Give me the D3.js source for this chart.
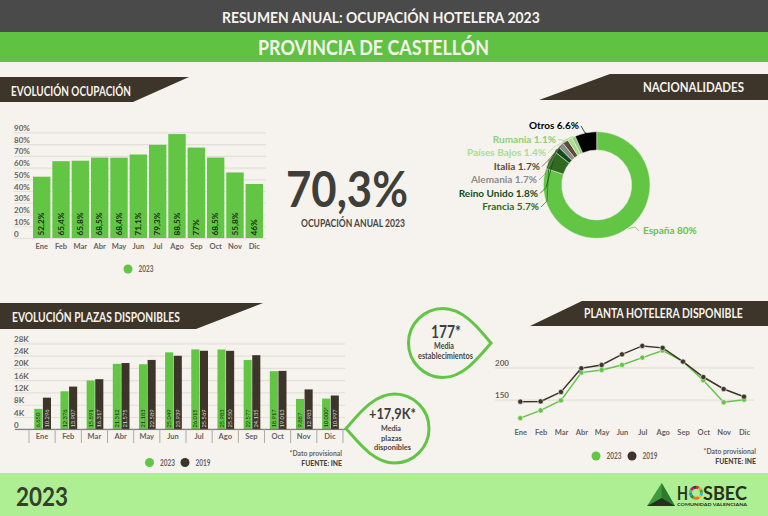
<!DOCTYPE html>
<html>
<head>
<meta charset="utf-8">
<script src="https://cdn.jsdelivr.net/npm/d3@7"></script>
<style>
  html, body { margin: 0; padding: 0; background: #f6f3ee; }
  svg { display: block; font-family: Lato, "Open Sans", sans-serif; }
  .domain { display: none; }
</style>
</head>
<body>
<svg id="chart" width="768" height="516"></svg>
<script>
var months = ["Ene", "Feb", "Mar", "Abr", "May", "Jun", "Jul", "Ago", "Sep", "Oct", "Nov", "Dic"];

var occupancy2023 = [52.2, 65.4, 65.8, 68.5, 68.4, 71.1, 79.3, 88.5, 77, 68.5, 55.8, 46];
var occupancyTicks = [0, 10, 20, 30, 40, 50, 60, 70, 80, 90];

var places2023 = [6650, 12376, 15891, 21312, 21183, 25049, 26015, 25983, 22577, 18917, 9887, 10000];
var places2019 = [10296, 13907, 16317, 21575, 22589, 23939, 25569, 25550, 24135, 19013, 12983, 10997];
var placesTicks = [0, 4000, 8000, 12000, 16000, 20000, 24000, 28000];

var hotels2023 = [121.6, 133.5, 149, 191.8, 196, 203.6, 215, 226, 208.8, 180, 146, 150];
var hotels2019 = [147, 147.4, 162, 198.5, 203.6, 220, 233, 230, 208.8, 185, 166.5, 154.6];
var hotelTicks = [150, 200];

var countries = ["España", "Francia", "Reino Unido", "Alemania", "Italia", "Países Bajos", "Rumania", "Otros"];
var countryShare = [80, 5.7, 1.8, 1.7, 1.7, 1.4, 1.1, 6.6];
var countryColors = ["#62c544", "#2f6a1e", "#0f4d1e", "#8c8c8c", "#5c4a38", "#a8dd8f", "#8ccf78", "#000000"];

var green = "#62c544", dark = "#3d3529", grey = "#66635e", gridColor = "#e3e0da";

var svg = d3.select("#chart");
var es = d3.formatLocale({ decimal: ",", thousands: ".", grouping: [3], currency: ["", ""] });
var thousands = es.format(",d");

function rect(x, y, w, h, fill) {
  return svg.append("rect").attr("x", x).attr("y", y).attr("width", w).attr("height", h).attr("fill", fill);
}

// text squeezed to the width it has in the original (the original font is not installed)
function fitText(str, x1, x2, y, size, fill, weight) {
  var t = svg.append("text").text(str)
    .attr("font-size", size).attr("font-weight", weight || 700).attr("fill", fill);
  var sx = (x2 - x1) / t.node().getComputedTextLength();
  t.attr("transform", "translate(" + x1 + "," + y + ") scale(" + sx + ",1)");
  return t;
}

function banner(points) {
  svg.append("polygon").attr("points", points.join(" ")).attr("fill", dark);
}

function legend(items, y) {
  items.forEach(function(item) {
    svg.append("circle").attr("cx", item.cx).attr("cy", y).attr("r", 4.5).attr("fill", item.color);
    fitText(item.name, item.cx + 10.5, item.cx + 25.5, y + 3, 8.5, grey, 700);
  });
}

function styleAxis(g, size) {
  g.selectAll("text").attr("font-size", size).attr("font-weight", 700)
    .attr("font-family", "Lato, sans-serif").attr("fill", grey);
}

// page frame
rect(0, 0, 768, 32, "#4a4a4a");
rect(0, 32, 768, 30, "#5fc242");
rect(0, 473, 768, 43, "#aeef93");
fitText("RESUMEN ANUAL: OCUPACIÓN HOTELERA 2023", 222, 540, 23.3, 16, "#f6f3ee");
fitText("PROVINCIA DE CASTELLÓN", 258, 489, 55, 20, "#f6f3ee");

banner(["0,77", "189,77", "133,102", "0,102"]);
banner(["610,74", "768,74", "768,100", "539,100"]);
banner(["0,303", "263,303", "196,329", "0,329"]);
banner(["582,301", "768,301", "768,326", "530,326"]);
fitText("EVOLUCIÓN OCUPACIÓN", 11, 131, 96, 13.5, "#f6f3ee");
fitText("NACIONALIDADES", 643, 744, 91.7, 13, "#f6f3ee");
fitText("EVOLUCIÓN PLAZAS DISPONIBLES", 12, 180, 321.7, 13.5, "#f6f3ee");
fitText("PLANTA HOTELERA DISPONIBLE", 584, 743, 318.3, 13, "#f6f3ee");

// occupancy bars
var x1 = d3.scaleBand().domain(months).range([33, 263]).paddingInner(0.1).paddingOuter(0);
var y1 = d3.scaleLinear().domain([0, 90]).range([238, 132.3]);

svg.append("g").attr("transform", "translate(14,0)")
  .call(d3.axisLeft(y1).tickValues(occupancyTicks).tickSize(-252).tickFormat(function(d) { return d ? d + "%" : "0"; }))
  .call(function(g) {
    g.selectAll("line").attr("stroke", gridColor).attr("stroke-width", 1.2);
    styleAxis(g, 8);
    g.selectAll("text").attr("text-anchor", "start").attr("x", 0).attr("dy", -2);
  });

svg.selectAll(".bar1").data(occupancy2023).join("rect").attr("class", "bar1")
  .attr("x", function(d, i) { return x1(months[i]); })
  .attr("y", function(d) { return y1(d); })
  .attr("width", x1.bandwidth())
  .attr("height", function(d) { return y1(0) - y1(d); })
  .attr("fill", green);

svg.selectAll(".bar1label").data(occupancy2023).join("text").attr("class", "bar1label")
  .text(function(d) { return String(d).replace(".", ",") + "%"; })
  .attr("transform", function(d, i) { return "translate(" + (x1(months[i]) + x1.bandwidth() / 2 + 2.8) + ",235.5) rotate(-90)"; })
  .attr("font-size", 8.2).attr("font-weight", 700).attr("fill", "#1d2a16");

svg.append("g").attr("transform", "translate(0,238)")
  .call(d3.axisBottom(x1).tickSize(0).tickPadding(6))
  .call(function(g) { styleAxis(g, 7.5); });

legend([{ cx: 128, color: green, name: "2023" }], 269);

// annual figure
fitText("70,3%", 286, 408, 207, 50, "#3f3f3a", 700);
fitText("OCUPACIÓN ANUAL 2023", 301, 405, 227, 10.5, "#4a463f");

// nationalities donut
var pie = d3.pie().sort(null).value(function(d) { return d; });
var arc = d3.arc().innerRadius(35).outerRadius(53.3);
var cx = 596.7, cy = 185;
var donut = svg.append("g").attr("transform", "translate(" + cx + "," + cy + ")");
var slices = pie(countryShare);

donut.selectAll("path").data(slices).join("path")
  .attr("d", arc)
  .attr("fill", function(d, i) { return countryColors[i]; })
  .attr("stroke", "#f6f3ee").attr("stroke-width", 0.5);

// labels stack upwards from Francia on the left, España sits alone on the right
function labelPos(i) {
  if (i === 0) return { x: 643, y: 234, anchor: "start" };
  var edge = [539, 538, 537, 540, 546, 556, 579][i - 1];
  return { x: edge, y: 210 - (i - 1) * 13.5, anchor: "end" };
}

slices.forEach(function(s, i) {
  var p = labelPos(i);
  var a = (s.startAngle + s.endAngle) / 2;
  var px = Math.sin(a) * 54, py = -Math.cos(a) * 54;
  var ex = p.x - cx + (i === 0 ? -4 : 2), ey = p.y - 3 - cy;
  var elbow = i === 0 ? [ex - 4, ey - 4] : [ex + 6, Math.max(ey - 6, py + 4)];
  donut.append("path")
    .attr("d", d3.line()([[px, py], elbow, [ex, ey]]))
    .attr("fill", "none").attr("stroke", countryColors[i]).attr("stroke-width", 0.7);
  svg.append("text").text(countries[i] + " " + countryShare[i] + "%")
    .attr("x", p.x).attr("y", p.y).attr("text-anchor", p.anchor)
    .attr("font-size", 10).attr("font-weight", 700).attr("fill", countryColors[i]);
});

// places grouped bars
var x2 = d3.scaleBand().domain(months).range([29, 343]);
var x2inner = d3.scaleBand().domain(["2023", "2019"]).range([5.3, 22]).paddingInner(0.06);
var y2 = d3.scaleLinear().domain([0, 28000]).range([429.3, 343.3]);

svg.append("g").attr("transform", "translate(14,0)")
  .call(d3.axisLeft(y2).tickValues(placesTicks).tickSize(-331).tickFormat(function(d) { return d ? d / 1000 + "K" : "0"; }))
  .call(function(g) {
    g.selectAll("line").attr("stroke", gridColor).attr("stroke-width", 1.2);
    styleAxis(g, 8);
    g.selectAll("text").attr("text-anchor", "start").attr("x", 0).attr("dy", -2);
  });

function placeBars(values, key, fill, labelFill, star) {
  svg.selectAll(".bar" + key).data(values).join("rect").attr("class", "bar" + key)
    .attr("x", function(d, i) { return x2(months[i]) + x2inner(key); })
    .attr("y", function(d) { return y2(d); })
    .attr("width", x2inner.bandwidth())
    .attr("height", function(d) { return y2(0) - y2(d); })
    .attr("fill", fill);
  svg.selectAll(".label" + key).data(values).join("text").attr("class", "label" + key)
    .text(function(d, i) { return thousands(d) + (star && i === 11 ? "*" : ""); })
    .attr("transform", function(d, i) {
      return "translate(" + (x2(months[i]) + x2inner(key) + x2inner.bandwidth() / 2 + 2) + ",427.5) rotate(-90)";
    })
    .attr("font-size", 5.8).attr("font-weight", 400).attr("fill", labelFill);
}
placeBars(places2023, "2023", green, "#1d2a16", true);
placeBars(places2019, "2019", dark, "#d8d5cf", false);

svg.append("g").attr("transform", "translate(0,429.3)")
  .call(d3.axisBottom(x2).tickSize(0).tickPadding(4))
  .call(function(g) { styleAxis(g, 7.5); });

svg.append("line").attr("x1", 15).attr("x2", 345).attr("y1", 429.3).attr("y2", 429.3)
  .attr("stroke", "#6b6862").attr("stroke-width", 1);
svg.selectAll(".monthTick").data(months.concat("end")).join("line").attr("class", "monthTick")
  .attr("x1", function(d, i) { return 29 + i * x2.step(); })
  .attr("x2", function(d, i) { return 29 + i * x2.step(); })
  .attr("y1", 429.3).attr("y2", 443)
  .attr("stroke", "#aeaba5").attr("stroke-width", 1);

legend([{ cx: 149.5, color: green, name: "2023" }, { cx: 185, color: dark, name: "2019" }], 462.5);

function notes(right, y) {
  svg.append("text").text("*Dato provisional").attr("x", right).attr("y", y).attr("text-anchor", "end")
    .attr("font-size", 6.8).attr("font-weight", 700).attr("fill", grey);
  svg.append("text").text("FUENTE: INE").attr("x", right).attr("y", y + 10).attr("text-anchor", "end")
    .attr("font-size", 6.8).attr("font-weight", 900).attr("fill", "#4a463f");
}
notes(342, 455.5);
notes(756, 453.5);

// hotels lines
var x3 = d3.scalePoint().domain(months).range([520.3, 744]);
var y3 = d3.scaleLinear().domain([150, 200]).range([399.7, 367.3]);

svg.append("g").attr("transform", "translate(495,0)")
  .call(d3.axisLeft(y3).tickValues(hotelTicks).tickSize(-259))
  .call(function(g) {
    g.selectAll("line").attr("stroke", gridColor).attr("stroke-width", 1.2);
    styleAxis(g, 8);
    g.selectAll("text").attr("text-anchor", "start").attr("x", 0).attr("dy", -2);
  });

svg.append("g").attr("transform", "translate(0,426)")
  .call(d3.axisBottom(x3).tickSize(0).tickPadding(4))
  .call(function(g) { styleAxis(g, 7.5); });

var line = d3.line().x(function(d, i) { return x3(months[i]); }).y(function(d) { return y3(d); });

function hotelSeries(values, color) {
  svg.append("path").datum(values).attr("d", line)
    .attr("fill", "none").attr("stroke", color).attr("stroke-width", 1.5);
  svg.append("g").selectAll("circle").data(values).join("circle")
    .attr("cx", function(d, i) { return x3(months[i]); })
    .attr("cy", function(d) { return y3(d); })
    .attr("r", 2.6).attr("fill", color).attr("stroke", "#f6f3ee").attr("stroke-width", 0.6);
}
hotelSeries(hotels2023, green);
hotelSeries(hotels2019, dark);

legend([{ cx: 596, color: green, name: "2023" }, { cx: 632, color: dark, name: "2019" }], 456);

// teardrop callouts
function teardrop(ccx, ccy, r, tipX) {
  var dir = tipX > ccx ? 1 : -1;
  var sweep = dir > 0 ? 0 : 1;
  return "M" + tipX + "," + ccy +
    "C" + (ccx + dir * r * 1.05) + "," + (ccy - r * 0.4) + " " + (ccx + dir * r * 0.6) + "," + (ccy - r) + " " + ccx + "," + (ccy - r) +
    "A" + r + "," + r + " 0 0 " + sweep + " " + ccx + "," + (ccy + r) +
    "C" + (ccx + dir * r * 0.6) + "," + (ccy + r) + " " + (ccx + dir * r * 1.05) + "," + (ccy + r * 0.4) + " " + tipX + "," + ccy + "Z";
}
svg.append("path").attr("d", teardrop(443, 343, 34.5, 491))
  .attr("fill", "#f6f3ee").attr("stroke", green).attr("stroke-width", 3);
svg.append("path").attr("d", teardrop(394.5, 428.5, 34.5, 346))
  .attr("fill", "#f6f3ee").attr("stroke", green).attr("stroke-width", 3);

fitText("177*", 431, 461, 338, 17, "#3f3f3a");
fitText("Media", 434, 454, 348.5, 8.5, "#4a463f");
fitText("establecimientos", 418, 473, 358.5, 8.5, "#4a463f");

fitText("+17,9K*", 369, 416, 418.5, 16, "#3f3f3a");
fitText("Media", 381, 401, 431, 8, "#4a463f");
fitText("plazas", 381, 402, 440.5, 8, "#4a463f");
fitText("disponibles", 374, 411, 450, 8, "#4a463f");

// footer
fitText("2023", 16, 68, 506, 26, "#33402b");

svg.append("polygon").attr("points", "661.7,483 647,506 675,506").attr("fill", "#3f9a3a");
svg.append("polygon").attr("points", "661.7,483 661.7,498 675,506").attr("fill", "#2c7a2e");
svg.append("polygon").attr("points", "661.7,498 647,506 675,506").attr("fill", "#26301f");
fitText("H", 677, 688, 499.5, 19, "#26301f");
fitText("SBEC", 703, 747, 499.5, 19, "#26301f");
fitText("COMUNIDAD VALENCIANA", 677, 747, 506, 3.2, "#26301f");

var sdg = ["#e5243b", "#dda63a", "#4c9f38", "#26bde2", "#fcc30b", "#fd6925", "#bf8b2e", "#3f7e44", "#0a97d9", "#56c02b", "#dd1367", "#19486a"];
var ring = d3.arc().innerRadius(4).outerRadius(7);
svg.append("g").attr("transform", "translate(696,492.7)")
  .selectAll("path").data(d3.pie().value(1)(sdg)).join("path")
  .attr("d", ring).attr("fill", function(d) { return d.data; });
</script>
</body>
</html>
